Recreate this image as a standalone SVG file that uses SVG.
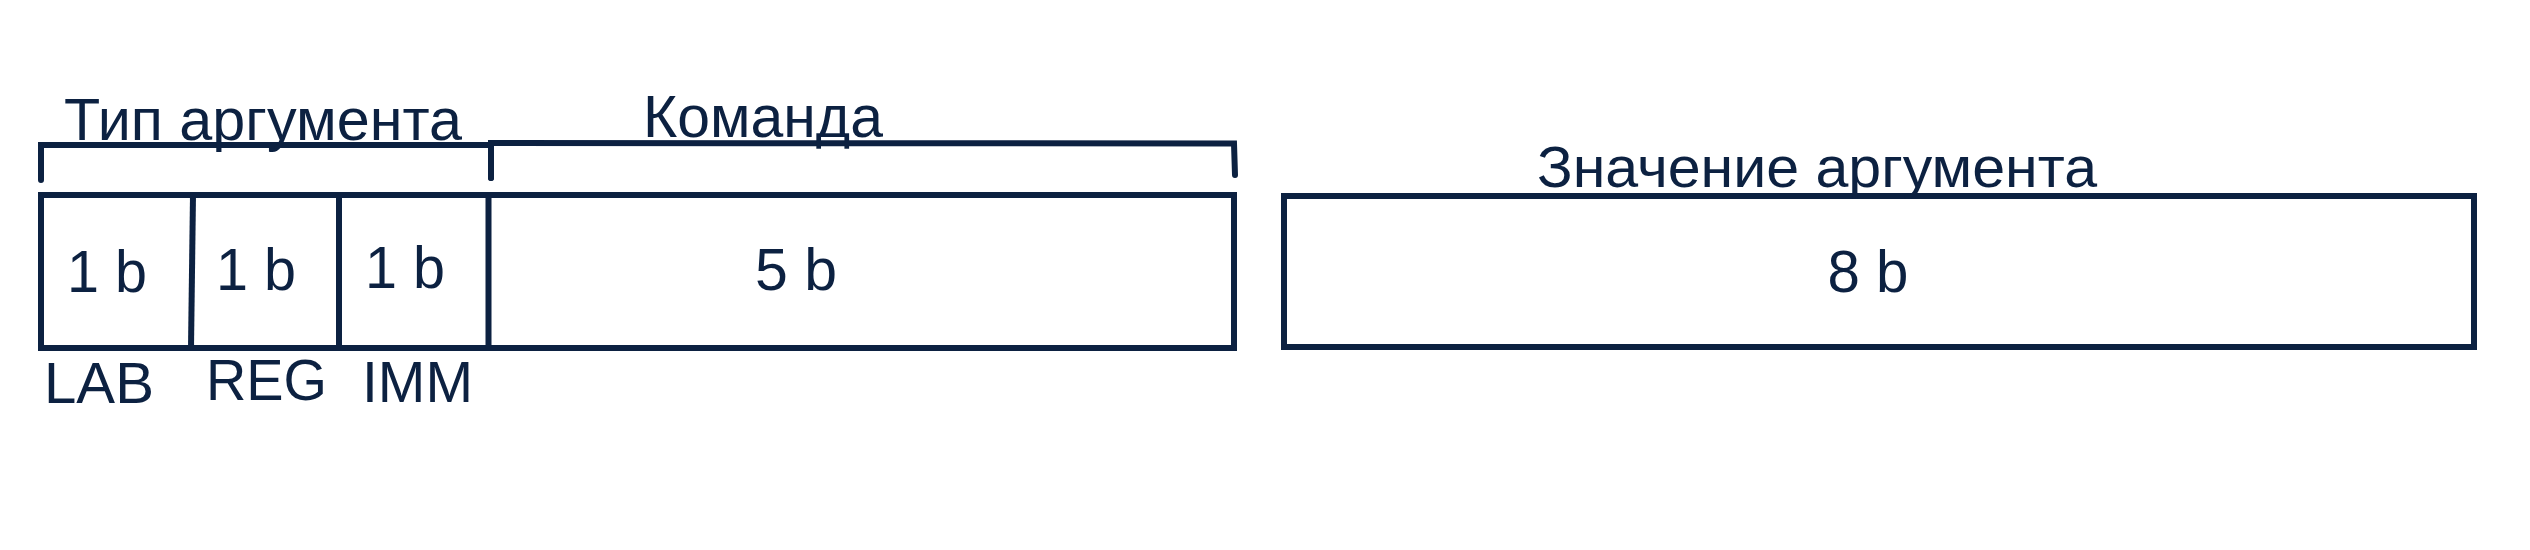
<svg xmlns="http://www.w3.org/2000/svg" width="2530" height="550" viewBox="0 0 2530 550">
<style>
.ln{fill:none;stroke:#0c2141;stroke-width:6;stroke-linecap:round;stroke-linejoin:miter}
.bx{fill:#ffffff;stroke:#0c2141;stroke-width:6}
.t{font-family:"Liberation Sans",Arial,sans-serif;fill:#0c2141}
.lg{font-size:60px}
.md{font-size:57px}
.c{text-anchor:middle}
</style>
<rect x="0" y="0" width="2530" height="550" fill="#ffffff"/>
<g id="connectors">
<path class="ln" d="M41,180 L41,145 L491,145 L491,178"/>
<path class="ln" d="M491,178 L491,143 L1234,143.5 L1235,175"/>
</g>
<g id="node-command-word">
<rect class="bx" x="41" y="195" width="1193" height="153"/>
<line class="ln" x1="193" y1="195" x2="191" y2="348" style="stroke-linecap:butt"/>
<line class="ln" x1="339" y1="195" x2="339" y2="348" style="stroke-linecap:butt"/>
<line class="ln" x1="488.5" y1="195" x2="488.5" y2="348" style="stroke-linecap:butt"/>
</g>
<g id="node-lab"><text class="t lg c" x="107" y="292" textLength="80" lengthAdjust="spacingAndGlyphs">1 b</text><text class="t md" x="44" y="403" textLength="110" lengthAdjust="spacingAndGlyphs">LAB</text></g>
<g id="node-reg"><text class="t lg c" x="256" y="290" textLength="80" lengthAdjust="spacingAndGlyphs">1 b</text><text class="t md" x="206" y="400" textLength="121" lengthAdjust="spacingAndGlyphs">REG</text></g>
<g id="node-imm"><text class="t lg c" x="405" y="288" textLength="80" lengthAdjust="spacingAndGlyphs">1 b</text><text class="t md" x="362" y="402" textLength="111" lengthAdjust="spacingAndGlyphs">IMM</text></g>
<g id="node-opcode"><text class="t lg c" x="796" y="290" textLength="82" lengthAdjust="spacingAndGlyphs">5 b</text></g>
<g id="node-value">
<rect class="bx" x="1284" y="196" width="1190" height="151"/>
<text class="t lg c" x="1868" y="292" textLength="81" lengthAdjust="spacingAndGlyphs">8 b</text>
</g>
<g id="labels">
<text class="t lg" x="64" y="140" textLength="398" lengthAdjust="spacingAndGlyphs">Тип аргумента</text>
<text class="t lg" x="643" y="137" textLength="240" lengthAdjust="spacingAndGlyphs">Команда</text>
<text class="t md" x="1537" y="187" textLength="560" lengthAdjust="spacingAndGlyphs">Значение аргумента</text>
</g>
</svg>
